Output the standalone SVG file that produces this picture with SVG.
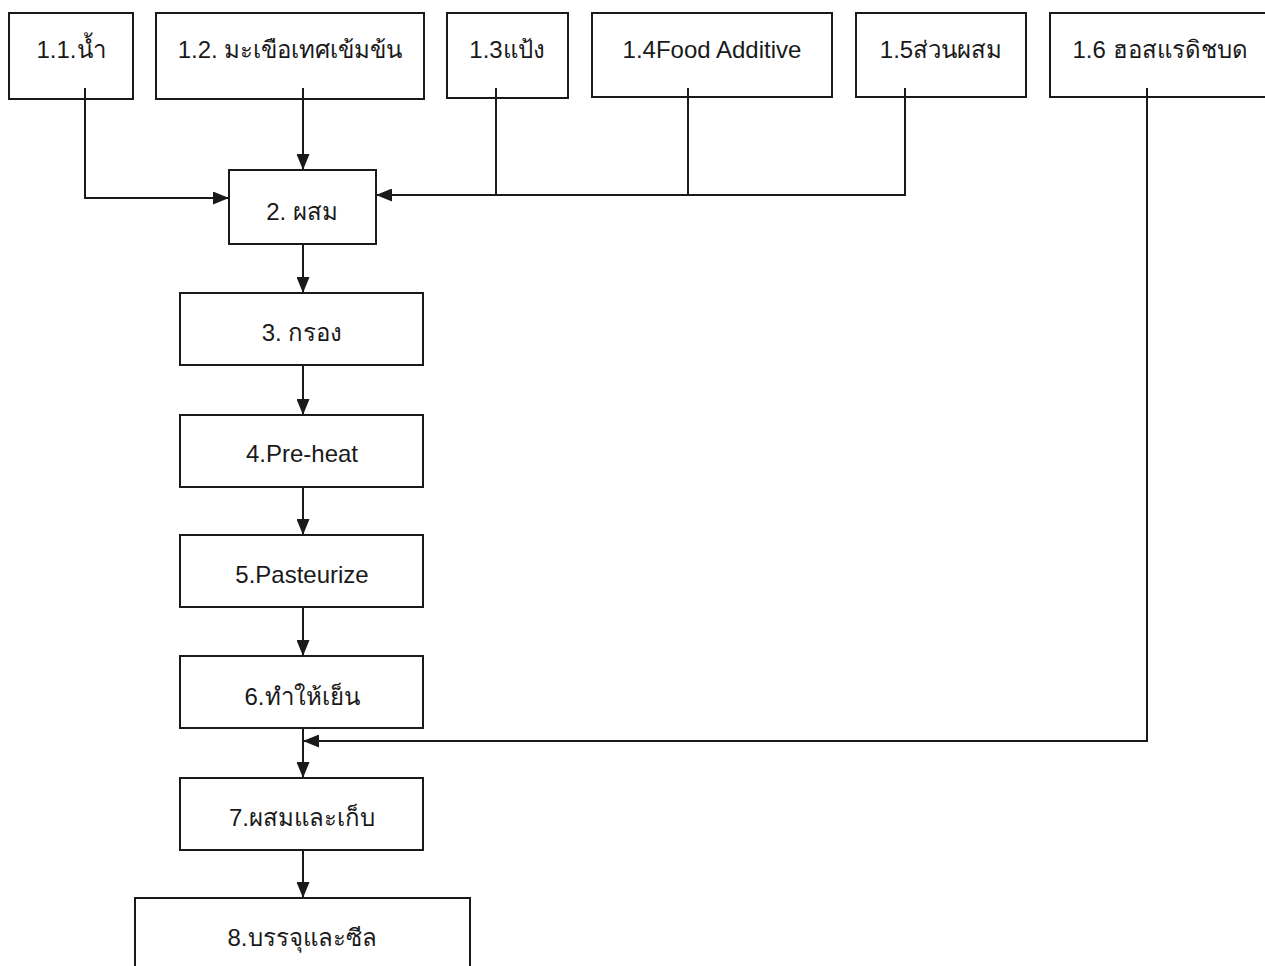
<svg xmlns="http://www.w3.org/2000/svg" width="1265" height="966" viewBox="0 0 1265 966">
  <style>
    .box { fill: #ffffff; stroke: #1a1a1a; stroke-width: 2; }
    .lbl { font-family: "Liberation Sans", "Noto Sans", "DejaVu Sans", sans-serif; font-size: 24px; fill: #1a1a1a; text-anchor: middle; }
    .wire { fill: none; stroke: #1a1a1a; stroke-width: 2; }
  </style>
  <defs>
    <marker id="arrow" viewBox="0 0 16 13" refX="16" refY="6.5" markerWidth="16" markerHeight="13" markerUnits="userSpaceOnUse" orient="auto">
      <path d="M0,0 L16,6.5 L0,13 z" fill="#1a1a1a"/>
    </marker>
  </defs>
  <rect width="1265" height="966" fill="#ffffff"/>

  <!-- ingredient inputs -->
  <g id="n1-1"><rect class="box" x="9" y="13" width="124" height="86"/><text class="lbl" x="71" y="58">1.1.น้ำ</text></g>
  <g id="n1-2"><rect class="box" x="156" y="13" width="268" height="86"/><text class="lbl" x="290" y="58">1.2. มะเขือเทศเข้มข้น</text></g>
  <g id="n1-3"><rect class="box" x="447" y="13" width="121" height="85"/><text class="lbl" x="507" y="58">1.3แป้ง</text></g>
  <g id="n1-4"><rect class="box" x="592" y="13" width="240" height="84"/><text class="lbl" x="712" y="58">1.4Food Additive</text></g>
  <g id="n1-5"><rect class="box" x="856" y="13" width="170" height="84"/><text class="lbl" x="941" y="58">1.5ส่วนผสม</text></g>
  <g id="n1-6"><rect class="box" x="1050" y="13" width="220" height="84"/><text class="lbl" x="1160" y="58">1.6 ฮอสแรดิชบด</text></g>

  <!-- process steps -->
  <g id="n2"><rect class="box" x="229" y="170" width="147" height="74"/><text class="lbl" x="302" y="220">2. ผสม</text></g>
  <g id="n3"><rect class="box" x="180" y="293" width="243" height="72"/><text class="lbl" x="302" y="341">3. กรอง</text></g>
  <g id="n4"><rect class="box" x="180" y="415" width="243" height="72"/><text class="lbl" x="302" y="462">4.Pre-heat</text></g>
  <g id="n5"><rect class="box" x="180" y="535" width="243" height="72"/><text class="lbl" x="302" y="583">5.Pasteurize</text></g>
  <g id="n6"><rect class="box" x="180" y="656" width="243" height="72"/><text class="lbl" x="302" y="705">6.ทำให้เย็น</text></g>
  <g id="n7"><rect class="box" x="180" y="778" width="243" height="72"/><text class="lbl" x="302" y="826">7.ผสมและเก็บ</text></g>
  <g id="n8"><rect class="box" x="135" y="898" width="335" height="80"/><text class="lbl" x="302" y="946">8.บรรจุและซีล</text></g>

  <!-- connectors (drawn last: feed lines start just inside the input boxes) -->
  <g id="connectors">
    <path class="wire" d="M85,88 V198 H229" marker-end="url(#arrow)"/>
    <path class="wire" d="M303,88 V170" marker-end="url(#arrow)"/>
    <path class="wire" d="M496,88 V195"/>
    <path class="wire" d="M688,88 V195"/>
    <path class="wire" d="M905,88 V195 H376" marker-end="url(#arrow)"/>
    <path class="wire" d="M1147,88 V741 H303" marker-end="url(#arrow)"/>
    <path class="wire" d="M303,244 V293" marker-end="url(#arrow)"/>
    <path class="wire" d="M303,365 V415" marker-end="url(#arrow)"/>
    <path class="wire" d="M303,487 V535" marker-end="url(#arrow)"/>
    <path class="wire" d="M303,607 V656" marker-end="url(#arrow)"/>
    <path class="wire" d="M303,728 V778" marker-end="url(#arrow)"/>
    <path class="wire" d="M303,850 V898" marker-end="url(#arrow)"/>
  </g>
</svg>
